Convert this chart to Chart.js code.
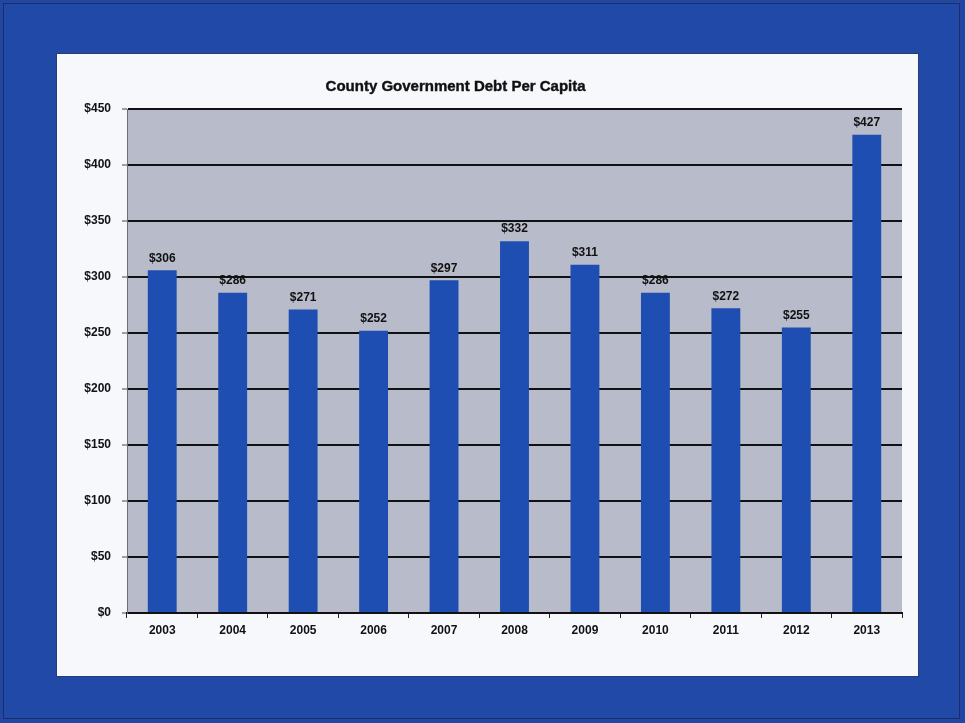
<!DOCTYPE html>
<html>
<head>
<meta charset="utf-8">
<script src="https://cdn.jsdelivr.net/npm/chart.js@4.4.1/dist/chart.umd.min.js"></script>
<style>
  html, body { margin: 0; padding: 0; }
  body {
    width: 965px; height: 723px; overflow: hidden;
    background: #2147a3;
    position: relative;
  }
  #frame {
    position: absolute; left: 3px; top: 3px; width: 957px; height: 716px;
    background: #2149a8;
    box-shadow: inset 0 0 0 1px #1a2f66;
  }
  #panel {
    position: absolute; left: 57px; top: 54px; width: 861px; height: 622px;
    background: #f6f8fc;
    box-shadow: 0 0 0 1px #2a3c78;
  }
  #chart { display: block; }
</style>
</head>
<body>
<div id="frame"></div>
<div id="panel"><canvas id="chart" width="861" height="622"></canvas></div>
<script>
// County government debt per capita, by year
const years = ['2003', '2004', '2005', '2006', '2007', '2008', '2009', '2010', '2011', '2012', '2013'];
const debtPerCapita = [306, 286, 271, 252, 297, 332, 311, 286, 272, 255, 427];
const yTicks = [0, 50, 100, 150, 200, 250, 300, 350, 400, 450];
const chartTitle = 'County Government Debt Per Capita';

const FONT = '"Liberation Sans", Arial, sans-serif';

// Grey fill behind the plotting area
const plotBackground = {
  id: 'plotBackground',
  beforeDraw(chart) {
    const { ctx, chartArea: a } = chart;
    ctx.save();
    ctx.fillStyle = '#b8bbca';
    ctx.fillRect(a.left, a.top, a.right - a.left, a.bottom - a.top);
    ctx.restore();
  }
};

// Title, set a little left of the plot centre
const offsetTitle = {
  id: 'offsetTitle',
  afterDraw(chart) {
    const { ctx, chartArea: a } = chart;
    ctx.save();
    ctx.font = 'bold 15px ' + FONT;
    ctx.fillStyle = '#111';
    ctx.strokeStyle = '#111';
    ctx.lineWidth = 0.4;
    ctx.textAlign = 'center';
    ctx.textBaseline = 'middle';
    const x = a.left + (a.right - a.left) * 0.424;
    ctx.fillText(chartTitle, x, 33);
    ctx.strokeText(chartTitle, x, 33);
    ctx.restore();
  }
};

// Dollar value written above each bar
const valueLabels = {
  id: 'valueLabels',
  afterDatasetsDraw(chart) {
    const { ctx } = chart;
    const meta = chart.getDatasetMeta(0);
    ctx.save();
    ctx.font = 'bold 12px ' + FONT;
    ctx.fillStyle = '#111';
    ctx.textAlign = 'center';
    ctx.textBaseline = 'bottom';
    meta.data.forEach((bar, i) => {
      ctx.fillText('$' + debtPerCapita[i], bar.x, bar.y - 6);
    });
    ctx.restore();
  }
};

new Chart(document.getElementById('chart'), {
  type: 'bar',
  data: {
    labels: years,
    datasets: [{
      data: debtPerCapita,
      backgroundColor: '#1e4eb2',
      borderWidth: 0,
      barPercentage: 0.82,
      categoryPercentage: 0.5
    }]
  },
  options: {
    responsive: false,
    animation: false,
    events: [],
    layout: { padding: { left: 0, top: 55, right: 16, bottom: 0 } },
    plugins: {
      legend: { display: false },
      title: { display: false },
      tooltip: { enabled: false }
    },
    scales: {
      x: {
        offset: true,
        grid: {
          offset: true,
          drawOnChartArea: false,
          drawTicks: true,
          tickLength: 5,
          color: '#222',
          lineWidth: 1
        },
        border: { display: true, color: '#111', width: 2 },
        ticks: {
          color: '#111',
          font: { family: FONT, size: 12, weight: 'bold' },
          padding: 5,
          maxRotation: 0
        },
        afterFit(scale) { scale.height = 63; }
      },
      y: {
        min: 0,
        max: 450,
        afterBuildTicks(scale) { scale.ticks = yTicks.map(v => ({ value: v })); },
        grid: {
          color: '#111',
          lineWidth: 2,
          drawTicks: true,
          tickLength: 5,
          tickColor: '#444',
          tickWidth: 1
        },
        border: { display: true, color: '#6a6d7a', width: 1 },
        ticks: {
          color: '#111',
          font: { family: FONT, size: 12, weight: 'bold' },
          padding: 11,
          callback: v => '$' + v
        },
        afterFit(scale) { scale.width = 70; }
      }
    }
  },
  plugins: [plotBackground, valueLabels, offsetTitle]
});
</script>
</body>
</html>
